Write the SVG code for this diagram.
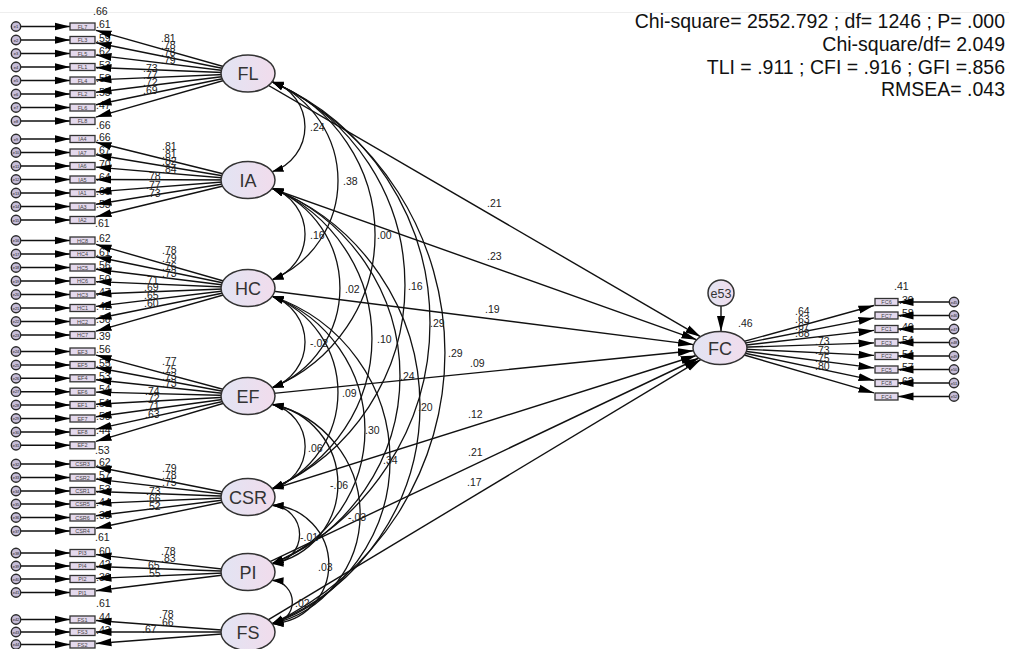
<svg xmlns="http://www.w3.org/2000/svg" width="1009" height="649" viewBox="0 0 1009 649">
<defs>
<linearGradient id="lg" x1="0" y1="0" x2="1" y2="0">
<stop offset="0" stop-color="#e2e4f3"/><stop offset="1" stop-color="#f1dcec"/>
</linearGradient>
<marker id="ah" markerUnits="userSpaceOnUse" viewBox="0 0 16 9" markerWidth="16" markerHeight="9" refX="15.5" refY="4.5" orient="auto"><path d="M0,0.5 L15.5,4.5 L0,8.5 z" fill="#000"/></marker>
<marker id="ae" markerUnits="userSpaceOnUse" viewBox="0 0 12 8" markerWidth="12" markerHeight="8" refX="11.5" refY="4" orient="auto"><path d="M0,0.3 L11.5,4 L0,7.7 z" fill="#000"/></marker>
<marker id="as" markerUnits="userSpaceOnUse" viewBox="0 0 12 8" markerWidth="12" markerHeight="8" refX="0" refY="4" orient="auto"><path d="M11.5,0.3 L0,4 L11.5,7.7 z" fill="#000"/></marker>
</defs>
<style>
.lat{fill:url(#lg);stroke:#333;stroke-width:1.5}
.ind{fill:#e4d9ed;stroke:#333;stroke-width:1.3}
.err{fill:#c6bdd8;stroke:#2a2a2a;stroke-width:1.4}
.ln{stroke:#111;stroke-width:1.4;fill:none;marker-end:url(#ah)}
.arc{stroke:#111;stroke-width:1.3;fill:none;marker-start:url(#as);marker-end:url(#ae)}
text{font-family:"Liberation Sans",Arial,sans-serif}
.lt{font-size:18px;fill:#333;text-anchor:middle}
.it{font-size:5.5px;fill:#444;text-anchor:middle}
.et{font-size:4px;fill:#222;text-anchor:middle}
.n{font-size:10.5px;fill:#222}
.st{font-size:19.5px;fill:#111;text-anchor:end}
</style>
<rect width="1009" height="649" fill="#fff"/>
<line x1="0" y1="12.5" x2="1009" y2="12.5" stroke="#eeeeee" stroke-width="1"/>

<g id="r2-labels" class="n">
<text x="93" y="15">.66</text>
<text x="96" y="28">.61</text><text x="96" y="41.5">.59</text><text x="96" y="55">.62</text><text x="96" y="68.5">.53</text><text x="96" y="82">.58</text><text x="96" y="95.5">.55</text><text x="96" y="109">.47</text><text x="96" y="129">.66</text>
<text x="96" y="140.5">.66</text><text x="96" y="154">.67</text><text x="96" y="167.5">.70</text><text x="96" y="181">.64</text><text x="96" y="194.5">.60</text><text x="96" y="208">.53</text><text x="95" y="227">.61</text>
<text x="96" y="242">.62</text><text x="96" y="255.5">.61</text><text x="96" y="269">.56</text><text x="96" y="282.5">.50</text><text x="96" y="296">.47</text><text x="96" y="309.5">.42</text><text x="96" y="323">.36</text><text x="96" y="340">.39</text>
<text x="96" y="353">.56</text><text x="96" y="366.5">.55</text><text x="96" y="379.8">.53</text><text x="96" y="393.2">.54</text><text x="96" y="406.5">.51</text><text x="96" y="420">.50</text><text x="96" y="433.5">.44</text><text x="95" y="454">.53</text>
<text x="96" y="465.5">.62</text><text x="96" y="479">.57</text><text x="96" y="492.5">.53</text><text x="96" y="505.5">.44</text><text x="96" y="519">.38</text><text x="95" y="541">.61</text>
<text x="96" y="554.5">.60</text><text x="96" y="567.5">.42</text><text x="96" y="580.5">.30</text><text x="96" y="607">.61</text>
<text x="96" y="621">.44</text><text x="96" y="633.5">.43</text>
<text x="894" y="290">.41</text>
<text x="899" y="303.5">.39</text><text x="899" y="317">.58</text><text x="899" y="330.5">.46</text><text x="899" y="344">.54</text><text x="899" y="357.5">.54</text><text x="899" y="371">.57</text><text x="899" y="384.5">.62</text>
<text x="738" y="327">.46</text>
</g>

<g id="connectors">
<g id="error-arrows">
<path class="ln" d="M16,26.5H70"/><path class="ln" d="M16,40H70"/><path class="ln" d="M16,53.5H70"/><path class="ln" d="M16,67H70"/><path class="ln" d="M16,80.5H70"/><path class="ln" d="M16,94H70"/><path class="ln" d="M16,107.5H70"/><path class="ln" d="M16,121H70"/>
<path class="ln" d="M16,139H70"/><path class="ln" d="M16,152.5H70"/><path class="ln" d="M16,166H70"/><path class="ln" d="M16,179.5H70"/><path class="ln" d="M16,193H70"/><path class="ln" d="M16,206.5H70"/><path class="ln" d="M16,220H70"/>
<path class="ln" d="M16,240.5H70"/><path class="ln" d="M16,254H70"/><path class="ln" d="M16,267.5H70"/><path class="ln" d="M16,281H70"/><path class="ln" d="M16,294.5H70"/><path class="ln" d="M16,308H70"/><path class="ln" d="M16,321.5H70"/><path class="ln" d="M16,335H70"/>
<path class="ln" d="M16,351.5H70"/><path class="ln" d="M16,365H70"/><path class="ln" d="M16,378.3H70"/><path class="ln" d="M16,391.7H70"/><path class="ln" d="M16,405H70"/><path class="ln" d="M16,418.5H70"/><path class="ln" d="M16,432H70"/><path class="ln" d="M16,445.3H70"/>
<path class="ln" d="M16,464H70"/><path class="ln" d="M16,477.5H70"/><path class="ln" d="M16,491H70"/><path class="ln" d="M16,504H70"/><path class="ln" d="M16,517.5H70"/><path class="ln" d="M16,531H70"/>
<path class="ln" d="M16,553H70"/><path class="ln" d="M16,566H70"/><path class="ln" d="M16,579H70"/><path class="ln" d="M16,592.5H70"/>
<path class="ln" d="M16,619.5H70"/><path class="ln" d="M16,632H70"/><path class="ln" d="M16,644.5H70"/>
<path class="ln" d="M954,302H898"/><path class="ln" d="M954,315.5H898"/><path class="ln" d="M954,329H898"/><path class="ln" d="M954,342.5H898"/><path class="ln" d="M954,356H898"/><path class="ln" d="M954,369.5H898"/><path class="ln" d="M954,383H898"/><path class="ln" d="M954,396.5H898"/>
<path class="ln" d="M721,306V331.5"/>
</g>
<g id="loadings">
<path class="ln" d="M248,73.5L96,30.3"/><path class="ln" d="M248,73.5L96,42.7"/><path class="ln" d="M248,73.5L96,55.1"/><path class="ln" d="M248,73.5L96,67.5"/><path class="ln" d="M248,73.5L96,79.9"/><path class="ln" d="M248,73.5L96,92.3"/><path class="ln" d="M248,73.5L96,104.7"/><path class="ln" d="M248,73.5L96,117.1"/>
<path class="ln" d="M248,180L96,142.3"/><path class="ln" d="M248,180L96,154.7"/><path class="ln" d="M248,180L96,167.1"/><path class="ln" d="M248,180L96,179.5"/><path class="ln" d="M248,180L96,191.9"/><path class="ln" d="M248,180L96,204.3"/><path class="ln" d="M248,180L96,216.7"/>
<path class="ln" d="M248,288L96,244.4"/><path class="ln" d="M248,288L96,256.8"/><path class="ln" d="M248,288L96,269.2"/><path class="ln" d="M248,288L96,281.6"/><path class="ln" d="M248,288L96,294"/><path class="ln" d="M248,288L96,306.4"/><path class="ln" d="M248,288L96,318.8"/><path class="ln" d="M248,288L96,331.2"/>
<path class="ln" d="M248,396L96,355.1"/><path class="ln" d="M248,396L96,367.5"/><path class="ln" d="M248,396L96,379.7"/><path class="ln" d="M248,396L96,392.1"/><path class="ln" d="M248,396L96,404.3"/><path class="ln" d="M248,396L96,416.7"/><path class="ln" d="M248,396L96,429.1"/><path class="ln" d="M248,396L96,441.3"/>
<path class="ln" d="M248,497L96,466.7"/><path class="ln" d="M248,497L96,479.1"/><path class="ln" d="M248,497L96,491.5"/><path class="ln" d="M248,497L96,503.4"/><path class="ln" d="M248,497L96,515.8"/><path class="ln" d="M248,497L96,528.2"/>
<path class="ln" d="M248,572L96,554.6"/><path class="ln" d="M248,572L96,566.5"/><path class="ln" d="M248,572L96,578.4"/><path class="ln" d="M248,572L96,590.8"/>
<path class="ln" d="M248,632L96,620.5"/><path class="ln" d="M248,632L96,632"/><path class="ln" d="M248,632L96,643.5"/>
<path class="ln" d="M720,348L874,305.5"/><path class="ln" d="M720,348L874,317.9"/><path class="ln" d="M720,348L874,330.4"/><path class="ln" d="M720,348L874,342.9"/><path class="ln" d="M720,348L874,355.4"/><path class="ln" d="M720,348L874,367.9"/><path class="ln" d="M720,348L874,380.4"/><path class="ln" d="M720,348L874,392.9"/>
</g>
<g id="paths">
<path class="ln" d="M248,73.5L700.7,336.8"/>
<path class="ln" d="M248,180L696.9,339.8"/>
<path class="ln" d="M248,288L693.6,344.6"/>
<path class="ln" d="M248,396L693.4,350.7"/>
<path class="ln" d="M248,497L696.2,355.5"/>
<path class="ln" d="M248,572L698.9,358"/>
<path class="ln" d="M248,632L701,359.4"/>
</g>
<g id="covariances">
<path class="arc" d="M272,81.75A47.2,47.2 0 0 1 272,171.75"/>
<path class="arc" d="M272,81.75A107.25,107.25 0 0 1 272,279.75"/>
<path class="arc" d="M272,81.75A165.1,165.1 0 0 1 272,387.75"/>
<path class="arc" d="M272,81.75A222.2,222.2 0 0 1 272,488.75"/>
<path class="arc" d="M272,81.75A262.8,262.8 0 0 1 272,563.75"/>
<path class="arc" d="M272,81.75A298.8,298.8 0 0 1 272,623.75"/>
<path class="arc" d="M272,188.25A48.2,48.2 0 0 1 272,279.75"/>
<path class="arc" d="M272,188.25A107.2,107.2 0 0 1 272,387.75"/>
<path class="arc" d="M272,188.25A162.9,162.9 0 0 1 272,488.75"/>
<path class="arc" d="M272,188.25A201.7,201.7 0 0 1 272,563.75"/>
<path class="arc" d="M272,188.25A234.2,234.2 0 0 1 272,623.75"/>
<path class="arc" d="M272,296.25A48.2,48.2 0 0 1 272,387.75"/>
<path class="arc" d="M272,296.25A103.2,103.2 0 0 1 272,488.75"/>
<path class="arc" d="M272,296.25A142.7,142.7 0 0 1 272,563.75"/>
<path class="arc" d="M272,296.25A172.6,172.6 0 0 1 272,623.75"/>
<path class="arc" d="M272,404.25A43.5,43.5 0 0 1 272,488.75"/>
<path class="arc" d="M272,404.25A81.2,81.2 0 0 1 272,563.75"/>
<path class="arc" d="M272,404.25A112.4,112.4 0 0 1 272,623.75"/>
<path class="arc" d="M272,505.25A29.3,29.3 0 0 1 272,563.75"/>
<path class="arc" d="M272,505.25A59.3,59.3 0 0 1 272,623.75"/>
<path class="arc" d="M272,580.25A21.8,21.8 0 0 1 272,623.75"/>
</g>
</g>

<g id="latents">
<g id="FL"><ellipse class="lat" cx="248" cy="73.5" rx="27" ry="18.5"/><text class="lt" x="248" y="80">FL</text></g>
<g id="IA"><ellipse class="lat" cx="248" cy="180" rx="27" ry="18.5"/><text class="lt" x="248" y="186.5">IA</text></g>
<g id="HC"><ellipse class="lat" cx="248" cy="288" rx="27" ry="18.5"/><text class="lt" x="248" y="294.5">HC</text></g>
<g id="EF"><ellipse class="lat" cx="248" cy="396" rx="27" ry="18.5"/><text class="lt" x="248" y="402.5">EF</text></g>
<g id="CSR"><ellipse class="lat" cx="248" cy="497" rx="27" ry="18.5"/><text class="lt" x="248" y="503.5">CSR</text></g>
<g id="PI"><ellipse class="lat" cx="248" cy="572" rx="27" ry="18.5"/><text class="lt" x="248" y="578.5">PI</text></g>
<g id="FS"><ellipse class="lat" cx="248" cy="632" rx="27" ry="18.5"/><text class="lt" x="248" y="638.5">FS</text></g>
<g id="FC"><ellipse class="lat" cx="720" cy="348" rx="27" ry="16.5"/><text class="lt" x="720" y="354.5">FC</text></g>
<g id="e53"><circle class="lat" cx="721" cy="293" r="13"/><text x="721" y="297.5" style="font-size:12.5px;fill:#333;text-anchor:middle">e53</text></g>
</g>

<g id="indicators">
<g id="FL7"><rect class="ind" x="70" y="23" width="25" height="7"/><text class="it" x="82.5" y="28.5">FL7</text></g>
<g id="FL3"><rect class="ind" x="70" y="36.5" width="25" height="7"/><text class="it" x="82.5" y="42">FL3</text></g>
<g id="FL5"><rect class="ind" x="70" y="50" width="25" height="7"/><text class="it" x="82.5" y="55.5">FL5</text></g>
<g id="FL1"><rect class="ind" x="70" y="63.5" width="25" height="7"/><text class="it" x="82.5" y="69">FL1</text></g>
<g id="FL4"><rect class="ind" x="70" y="77" width="25" height="7"/><text class="it" x="82.5" y="82.5">FL4</text></g>
<g id="FL2"><rect class="ind" x="70" y="90.5" width="25" height="7"/><text class="it" x="82.5" y="96">FL2</text></g>
<g id="FL6"><rect class="ind" x="70" y="104" width="25" height="7"/><text class="it" x="82.5" y="109.5">FL6</text></g>
<g id="FL8"><rect class="ind" x="70" y="117.5" width="25" height="7"/><text class="it" x="82.5" y="123">FL8</text></g>
<g id="IA4"><rect class="ind" x="70" y="135.5" width="25" height="7"/><text class="it" x="82.5" y="141">IA4</text></g>
<g id="IA7"><rect class="ind" x="70" y="149" width="25" height="7"/><text class="it" x="82.5" y="154.5">IA7</text></g>
<g id="IA6"><rect class="ind" x="70" y="162.5" width="25" height="7"/><text class="it" x="82.5" y="168">IA6</text></g>
<g id="IA5"><rect class="ind" x="70" y="176" width="25" height="7"/><text class="it" x="82.5" y="181.5">IA5</text></g>
<g id="IA1"><rect class="ind" x="70" y="189.5" width="25" height="7"/><text class="it" x="82.5" y="195">IA1</text></g>
<g id="IA3"><rect class="ind" x="70" y="203" width="25" height="7"/><text class="it" x="82.5" y="208.5">IA3</text></g>
<g id="IA2"><rect class="ind" x="70" y="216.5" width="25" height="7"/><text class="it" x="82.5" y="222">IA2</text></g>
<g id="HC8"><rect class="ind" x="70" y="237" width="25" height="7"/><text class="it" x="82.5" y="242.5">HC8</text></g>
<g id="HC4"><rect class="ind" x="70" y="250.5" width="25" height="7"/><text class="it" x="82.5" y="256">HC4</text></g>
<g id="HC5"><rect class="ind" x="70" y="264" width="25" height="7"/><text class="it" x="82.5" y="269.5">HC5</text></g>
<g id="HC6"><rect class="ind" x="70" y="277.5" width="25" height="7"/><text class="it" x="82.5" y="283">HC6</text></g>
<g id="HC3"><rect class="ind" x="70" y="291" width="25" height="7"/><text class="it" x="82.5" y="296.5">HC3</text></g>
<g id="HC1"><rect class="ind" x="70" y="304.5" width="25" height="7"/><text class="it" x="82.5" y="310">HC1</text></g>
<g id="HC2"><rect class="ind" x="70" y="318" width="25" height="7"/><text class="it" x="82.5" y="323.5">HC2</text></g>
<g id="HC7"><rect class="ind" x="70" y="331.5" width="25" height="7"/><text class="it" x="82.5" y="337">HC7</text></g>
<g id="EF3"><rect class="ind" x="70" y="348" width="25" height="7"/><text class="it" x="82.5" y="353.5">EF3</text></g>
<g id="EF5"><rect class="ind" x="70" y="361.5" width="25" height="7"/><text class="it" x="82.5" y="367">EF5</text></g>
<g id="EF4"><rect class="ind" x="70" y="374.8" width="25" height="7"/><text class="it" x="82.5" y="380.3">EF4</text></g>
<g id="EF6"><rect class="ind" x="70" y="388.2" width="25" height="7"/><text class="it" x="82.5" y="393.7">EF6</text></g>
<g id="EF1"><rect class="ind" x="70" y="401.5" width="25" height="7"/><text class="it" x="82.5" y="407">EF1</text></g>
<g id="EF7"><rect class="ind" x="70" y="415" width="25" height="7"/><text class="it" x="82.5" y="420.5">EF7</text></g>
<g id="EF8"><rect class="ind" x="70" y="428.5" width="25" height="7"/><text class="it" x="82.5" y="434">EF8</text></g>
<g id="EF2"><rect class="ind" x="70" y="441.8" width="25" height="7"/><text class="it" x="82.5" y="447.3">EF2</text></g>
<g id="CSR3"><rect class="ind" x="70" y="460.5" width="25" height="7"/><text class="it" x="82.5" y="466">CSR3</text></g>
<g id="CSR2"><rect class="ind" x="70" y="474" width="25" height="7"/><text class="it" x="82.5" y="479.5">CSR2</text></g>
<g id="CSR1"><rect class="ind" x="70" y="487.5" width="25" height="7"/><text class="it" x="82.5" y="493">CSR1</text></g>
<g id="CSR5"><rect class="ind" x="70" y="500.5" width="25" height="7"/><text class="it" x="82.5" y="506">CSR5</text></g>
<g id="CSR6"><rect class="ind" x="70" y="514" width="25" height="7"/><text class="it" x="82.5" y="519.5">CSR6</text></g>
<g id="CSR4"><rect class="ind" x="70" y="527.5" width="25" height="7"/><text class="it" x="82.5" y="533">CSR4</text></g>
<g id="PI3"><rect class="ind" x="70" y="549.5" width="25" height="7"/><text class="it" x="82.5" y="555">PI3</text></g>
<g id="PI4"><rect class="ind" x="70" y="562.5" width="25" height="7"/><text class="it" x="82.5" y="568">PI4</text></g>
<g id="PI2"><rect class="ind" x="70" y="575.5" width="25" height="7"/><text class="it" x="82.5" y="581">PI2</text></g>
<g id="PI1"><rect class="ind" x="70" y="589" width="25" height="7"/><text class="it" x="82.5" y="594.5">PI1</text></g>
<g id="FS1"><rect class="ind" x="70" y="616" width="25" height="7"/><text class="it" x="82.5" y="621.5">FS1</text></g>
<g id="FS3"><rect class="ind" x="70" y="628.5" width="25" height="7"/><text class="it" x="82.5" y="634">FS3</text></g>
<g id="FS2"><rect class="ind" x="70" y="641" width="25" height="7"/><text class="it" x="82.5" y="646.5">FS2</text></g>
<g id="FC6"><rect class="ind" x="875" y="298.5" width="23" height="7"/><text class="it" x="886.5" y="304">FC6</text></g>
<g id="FC7"><rect class="ind" x="875" y="312" width="23" height="7"/><text class="it" x="886.5" y="317.5">FC7</text></g>
<g id="FC1"><rect class="ind" x="875" y="325.5" width="23" height="7"/><text class="it" x="886.5" y="331">FC1</text></g>
<g id="FC3"><rect class="ind" x="875" y="339" width="23" height="7"/><text class="it" x="886.5" y="344.5">FC3</text></g>
<g id="FC2"><rect class="ind" x="875" y="352.5" width="23" height="7"/><text class="it" x="886.5" y="358">FC2</text></g>
<g id="FC5"><rect class="ind" x="875" y="366" width="23" height="7"/><text class="it" x="886.5" y="371.5">FC5</text></g>
<g id="FC8"><rect class="ind" x="875" y="379.5" width="23" height="7"/><text class="it" x="886.5" y="385">FC8</text></g>
<g id="FC4"><rect class="ind" x="875" y="393" width="23" height="7"/><text class="it" x="886.5" y="398.5">FC4</text></g>
</g>

<g id="errors">
<g id="e1"><circle class="err" cx="16" cy="26.5" r="4.7"/><text class="et" x="16" y="28">e1</text></g>
<g id="e2"><circle class="err" cx="16" cy="40" r="4.7"/><text class="et" x="16" y="41.5">e2</text></g>
<g id="e3"><circle class="err" cx="16" cy="53.5" r="4.7"/><text class="et" x="16" y="55">e3</text></g>
<g id="e4"><circle class="err" cx="16" cy="67" r="4.7"/><text class="et" x="16" y="68.5">e4</text></g>
<g id="e5"><circle class="err" cx="16" cy="80.5" r="4.7"/><text class="et" x="16" y="82">e5</text></g>
<g id="e6"><circle class="err" cx="16" cy="94" r="4.7"/><text class="et" x="16" y="95.5">e6</text></g>
<g id="e7"><circle class="err" cx="16" cy="107.5" r="4.7"/><text class="et" x="16" y="109">e7</text></g>
<g id="e8"><circle class="err" cx="16" cy="121" r="4.7"/><text class="et" x="16" y="122.5">e8</text></g>
<g id="e9"><circle class="err" cx="16" cy="139" r="4.7"/><text class="et" x="16" y="140.5">e9</text></g>
<g id="e10"><circle class="err" cx="16" cy="152.5" r="4.7"/><text class="et" x="16" y="154">e10</text></g>
<g id="e11"><circle class="err" cx="16" cy="166" r="4.7"/><text class="et" x="16" y="167.5">e11</text></g>
<g id="e12"><circle class="err" cx="16" cy="179.5" r="4.7"/><text class="et" x="16" y="181">e12</text></g>
<g id="e13"><circle class="err" cx="16" cy="193" r="4.7"/><text class="et" x="16" y="194.5">e13</text></g>
<g id="e14"><circle class="err" cx="16" cy="206.5" r="4.7"/><text class="et" x="16" y="208">e14</text></g>
<g id="e15"><circle class="err" cx="16" cy="220" r="4.7"/><text class="et" x="16" y="221.5">e15</text></g>
<g id="e16"><circle class="err" cx="16" cy="240.5" r="4.7"/><text class="et" x="16" y="242">e16</text></g>
<g id="e17"><circle class="err" cx="16" cy="254" r="4.7"/><text class="et" x="16" y="255.5">e17</text></g>
<g id="e18"><circle class="err" cx="16" cy="267.5" r="4.7"/><text class="et" x="16" y="269">e18</text></g>
<g id="e19"><circle class="err" cx="16" cy="281" r="4.7"/><text class="et" x="16" y="282.5">e19</text></g>
<g id="e20"><circle class="err" cx="16" cy="294.5" r="4.7"/><text class="et" x="16" y="296">e20</text></g>
<g id="e21"><circle class="err" cx="16" cy="308" r="4.7"/><text class="et" x="16" y="309.5">e21</text></g>
<g id="e22"><circle class="err" cx="16" cy="321.5" r="4.7"/><text class="et" x="16" y="323">e22</text></g>
<g id="e23"><circle class="err" cx="16" cy="335" r="4.7"/><text class="et" x="16" y="336.5">e23</text></g>
<g id="e24"><circle class="err" cx="16" cy="351.5" r="4.7"/><text class="et" x="16" y="353">e24</text></g>
<g id="e25"><circle class="err" cx="16" cy="365" r="4.7"/><text class="et" x="16" y="366.5">e25</text></g>
<g id="e26"><circle class="err" cx="16" cy="378.3" r="4.7"/><text class="et" x="16" y="379.8">e26</text></g>
<g id="e27"><circle class="err" cx="16" cy="391.7" r="4.7"/><text class="et" x="16" y="393.2">e27</text></g>
<g id="e28"><circle class="err" cx="16" cy="405" r="4.7"/><text class="et" x="16" y="406.5">e28</text></g>
<g id="e29"><circle class="err" cx="16" cy="418.5" r="4.7"/><text class="et" x="16" y="420">e29</text></g>
<g id="e30"><circle class="err" cx="16" cy="432" r="4.7"/><text class="et" x="16" y="433.5">e30</text></g>
<g id="e31"><circle class="err" cx="16" cy="445.3" r="4.7"/><text class="et" x="16" y="446.8">e31</text></g>
<g id="e32"><circle class="err" cx="16" cy="464" r="4.7"/><text class="et" x="16" y="465.5">e32</text></g>
<g id="e33"><circle class="err" cx="16" cy="477.5" r="4.7"/><text class="et" x="16" y="479">e33</text></g>
<g id="e34"><circle class="err" cx="16" cy="491" r="4.7"/><text class="et" x="16" y="492.5">e34</text></g>
<g id="e35"><circle class="err" cx="16" cy="504" r="4.7"/><text class="et" x="16" y="505.5">e35</text></g>
<g id="e36"><circle class="err" cx="16" cy="517.5" r="4.7"/><text class="et" x="16" y="519">e36</text></g>
<g id="e37"><circle class="err" cx="16" cy="531" r="4.7"/><text class="et" x="16" y="532.5">e37</text></g>
<g id="e38"><circle class="err" cx="16" cy="553" r="4.7"/><text class="et" x="16" y="554.5">e38</text></g>
<g id="e39"><circle class="err" cx="16" cy="566" r="4.7"/><text class="et" x="16" y="567.5">e39</text></g>
<g id="e40"><circle class="err" cx="16" cy="579" r="4.7"/><text class="et" x="16" y="580.5">e40</text></g>
<g id="e41"><circle class="err" cx="16" cy="592.5" r="4.7"/><text class="et" x="16" y="594">e41</text></g>
<g id="e42"><circle class="err" cx="16" cy="619.5" r="4.7"/><text class="et" x="16" y="621">e42</text></g>
<g id="e43"><circle class="err" cx="16" cy="632" r="4.7"/><text class="et" x="16" y="633.5">e43</text></g>
<g id="e44"><circle class="err" cx="16" cy="644.5" r="4.7"/><text class="et" x="16" y="646">e44</text></g>
<g id="e45"><circle class="err" cx="954" cy="302" r="4.7"/><text class="et" x="954" y="303.5">e45</text></g>
<g id="e46"><circle class="err" cx="954" cy="315.5" r="4.7"/><text class="et" x="954" y="317">e46</text></g>
<g id="e47"><circle class="err" cx="954" cy="329" r="4.7"/><text class="et" x="954" y="330.5">e47</text></g>
<g id="e48"><circle class="err" cx="954" cy="342.5" r="4.7"/><text class="et" x="954" y="344">e48</text></g>
<g id="e49"><circle class="err" cx="954" cy="356" r="4.7"/><text class="et" x="954" y="357.5">e49</text></g>
<g id="e50"><circle class="err" cx="954" cy="369.5" r="4.7"/><text class="et" x="954" y="371">e50</text></g>
<g id="e51"><circle class="err" cx="954" cy="383" r="4.7"/><text class="et" x="954" y="384.5">e51</text></g>
<g id="e52"><circle class="err" cx="954" cy="396.5" r="4.7"/><text class="et" x="954" y="398">e52</text></g>
</g>

<g id="loading-labels" class="n">
<text x="161" y="41.5">.81</text><text x="161" y="48.5">.78</text><text x="161" y="55.5">.78</text><text x="161" y="63.5">.79</text>
<text x="143" y="71.5">.73</text><text x="143" y="78.5">.77</text><text x="143" y="85.5">.72</text><text x="143" y="93.5">.69</text>
<text x="162" y="150">.81</text><text x="162" y="158">.81</text><text x="162" y="165">.82</text><text x="162" y="173">.84</text>
<text x="146" y="180">.78</text><text x="146" y="188.5">.77</text><text x="146" y="196.5">.73</text>
<text x="162" y="254">.78</text><text x="162" y="261.5">.79</text><text x="162" y="269.5">.76</text><text x="162" y="276.5">.73</text>
<text x="144" y="283.5">.71</text><text x="144" y="290.5">.69</text><text x="144" y="298.5">.65</text><text x="144" y="306.5">.60</text>
<text x="162" y="364.5">.77</text><text x="162" y="372.5">.75</text><text x="162" y="379.5">.73</text><text x="162" y="386.5">.73</text>
<text x="145" y="394.5">.74</text><text x="145" y="401.5">.72</text><text x="145" y="409.5">.71</text><text x="145" y="417.5">.63</text>
<text x="162" y="471.5">.79</text><text x="162" y="478.5">.78</text><text x="162" y="485.5">.75</text>
<text x="146" y="494.5">.73</text><text x="146" y="501.5">.66</text><text x="146" y="509.5">.52</text>
<text x="161" y="555">.78</text><text x="161" y="561.5">.83</text><text x="145" y="568.5">.65</text><text x="146" y="576.5">.55</text>
<text x="159" y="617.5">.78</text><text x="159" y="625.5">.66</text><text x="142" y="632.5">.67</text>
<text x="795" y="315">.64</text><text x="795" y="322.5">.63</text><text x="795" y="329.5">.67</text><text x="795" y="336.5">.68</text>
<text x="815" y="345">.73</text><text x="815" y="353.5">.73</text><text x="815" y="361.5">.75</text><text x="815" y="370">.80</text>
</g>

<g id="path-labels" class="n">
<text x="487" y="207">.21</text>
<text x="487" y="260">.23</text>
<text x="485" y="313">.19</text>
<text x="470" y="367">.09</text>
<text x="468" y="418">.12</text>
<text x="468" y="456">.21</text>
<text x="467" y="486">.17</text>
</g>

<g id="covariance-labels" class="n">
<text x="310" y="131">.24</text>
<text x="343" y="185">.38</text>
<text x="377" y="239">.00</text>
<text x="408" y="290">.16</text>
<text x="430" y="327">.29</text>
<text x="448" y="357">.29</text>
<text x="310" y="239">.16</text>
<text x="345" y="293">.02</text>
<text x="377" y="343">.10</text>
<text x="400" y="380">.24</text>
<text x="418" y="411">.20</text>
<text x="310" y="347">-.02</text>
<text x="342" y="397">.09</text>
<text x="365" y="434">.30</text>
<text x="383" y="464">.34</text>
<text x="308" y="452">.06</text>
<text x="330" y="489">-.06</text>
<text x="348" y="521">-.03</text>
<text x="300" y="541">-.01</text>
<text x="318" y="571">.03</text>
<text x="295" y="607">.02</text>
</g>

<g id="fit-stats">
<text class="st" x="1005" y="28">Chi-square= 2552.792 ; df= 1246 ; P= .000</text>
<text class="st" x="1005" y="51">Chi-square/df= 2.049</text>
<text class="st" x="1005" y="73.5">TLI = .911 ; CFI = .916 ; GFI =.856</text>
<text class="st" x="1005" y="96">RMSEA= .043</text>
</g>
</svg>
